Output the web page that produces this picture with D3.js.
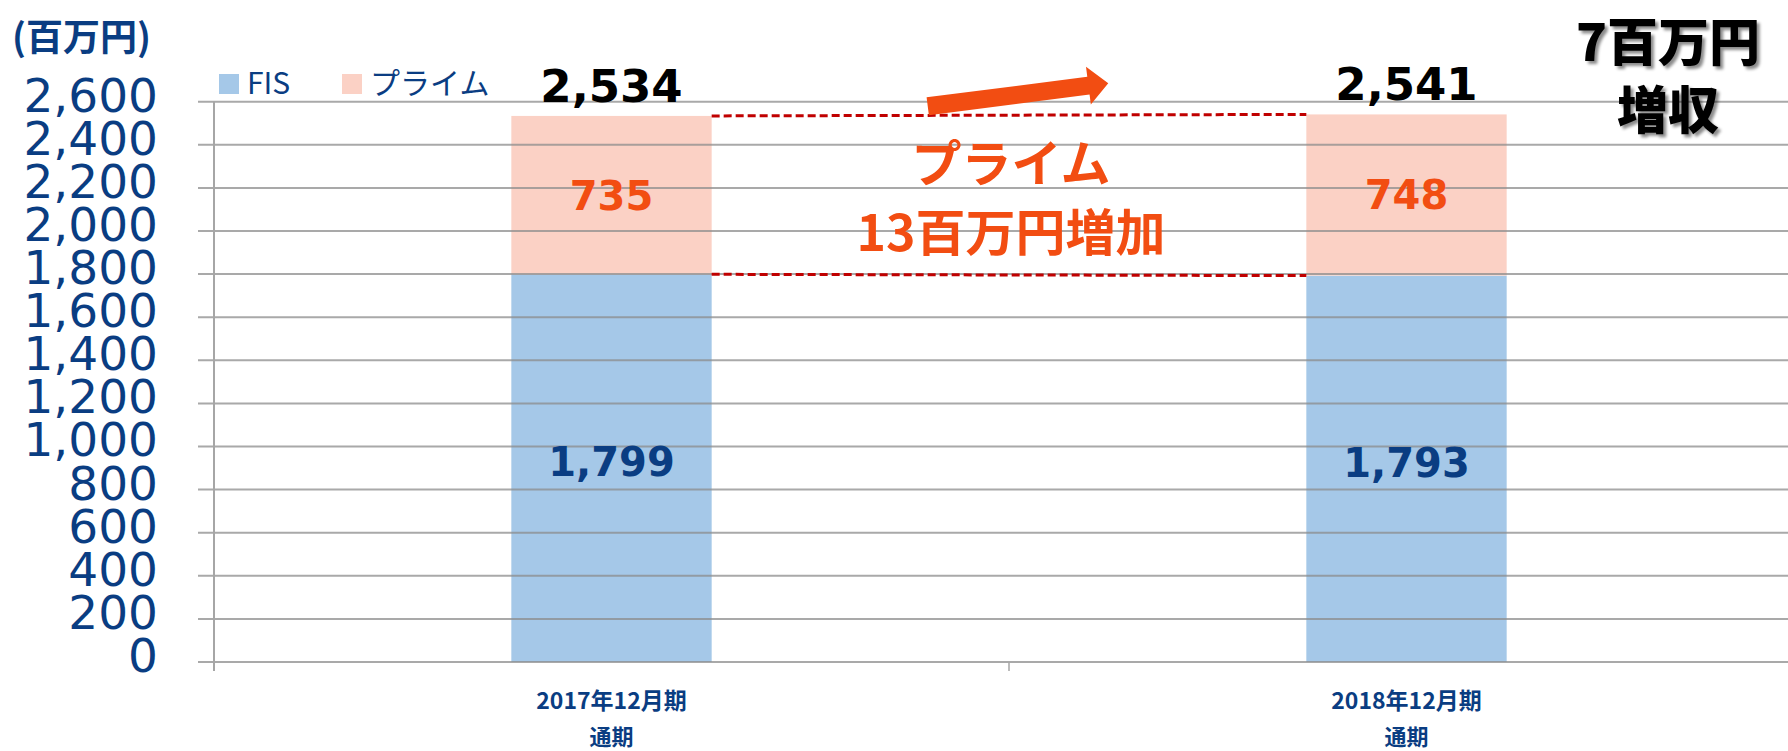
<!DOCTYPE html>
<html>
<head>
<meta charset="utf-8">
<script src="https://cdn.jsdelivr.net/npm/d3@7"></script>
<style>
  body { margin: 0; background: #fff; }
  svg { display: block; }
</style>
</head>
<body>
<div id="chart"></div>
<script>
/* FIS / プライム stacked bars */

const categories = ["2017年12月期", "2018年12月期"];
const subLabels = ["通期", "通期"];
const seriesNames = ["FIS", "プライム"];
const fisValues = [1799, 1793];
const primeValues = [735, 748];
const totals = [2534, 2541];
const yTicks = [0, 200, 400, 600, 800, 1000, 1200, 1400, 1600, 1800, 2000, 2200, 2400, 2600];
const unitLabel = "(百万円)";
const noteLines = ["プライム", "13百万円増加"];
const resultLines = ["7百万円", "増収"];

const width = 1788,
    height = 751,
    margin = ({ top: 101.7, right: -16, bottom: 89, left: 214 });

const blue = "#0a3d82", orange = "#f24d12";
const colors = ["#a5c8e8", "#fbd1c5"];

const svg = d3.select("#chart")
    .append("svg")
    .attr("width", width)
    .attr("height", height)
    .attr("viewBox", [0, 0, width, height]);

const defs = svg.append("defs");
defs.append("filter").attr("id", "shadow")
    .attr("x", "-10%").attr("y", "-10%").attr("width", "130%").attr("height", "140%")
  .append("feDropShadow")
    .attr("dx", 3).attr("dy", 3).attr("stdDeviation", 1.5)
    .attr("flood-color", "#000").attr("flood-opacity", 0.45);

const data = categories.map((c, i) => ({ cat: c, FIS: fisValues[i], "プライム": primeValues[i] }));
const stacked = d3.stack().keys(seriesNames)(data);

const x = d3.scaleBand()
    .domain(categories)
    .range([margin.left, width - margin.right])
    .padding(0);

const y = d3.scaleLinear()
    .domain([0, 2600])
    .range([height - margin.bottom, margin.top]);

const barW = x.bandwidth() * 0.252;
const cx = c => x(c) + x.bandwidth() / 2;

// bars
svg.append("g")
  .selectAll("g")
  .data(stacked)
  .join("g")
    .attr("fill", (d, i) => colors[i])
  .selectAll("rect")
  .data(d => d)
  .join("rect")
    .attr("x", d => cx(d.data.cat) - barW / 2)
    .attr("y", d => y(d[1]))
    .attr("width", barW)
    .attr("height", d => y(d[0]) - y(d[1]));

// gridlines drawn over the bars
svg.append("g")
  .selectAll("line")
  .data(yTicks)
  .join("line")
    .attr("x1", margin.left - 16)
    .attr("x2", width)
    .attr("y1", d => y(d))
    .attr("y2", d => y(d))
    .attr("stroke", "#8c8c8c")
    .attr("stroke-opacity", 0.75)
    .attr("stroke-width", 2);

// y axis line and x ticks
svg.append("line")
    .attr("x1", margin.left).attr("x2", margin.left)
    .attr("y1", y(2600)).attr("y2", y(0) + 9)
    .attr("stroke", "#a6a6a6").attr("stroke-width", 2);

svg.append("line")
    .attr("x1", x(categories[1])).attr("x2", x(categories[1]))
    .attr("y1", y(0)).attr("y2", y(0) + 9)
    .attr("stroke", "#a6a6a6").attr("stroke-width", 1.5);

// y tick labels
svg.append("g")
    .attr("transform", `translate(${margin.left},0)`)
    .call(d3.axisLeft(y).tickValues(yTicks).tickSize(0).tickPadding(56).tickFormat(d3.format(",")))
    .call(g => g.select(".domain").remove())
    .call(g => g.selectAll("text")
        .attr("dy", "0.2em")
        .attr("fill", blue)
        .style("font-family", "'DejaVu Sans', sans-serif")
        .style("font-size", "47px"));

// unit label
svg.append("text")
    .attr("x", 12)
    .attr("y", 51)
    .attr("fill", blue)
    .style("font-family", "'Noto Sans CJK JP', sans-serif")
    .style("font-weight", 700)
    .style("font-size", "37px")
    .text(unitLabel);

// category labels
const catG = svg.append("g")
    .style("font-family", "'Noto Sans CJK JP', sans-serif")
    .style("font-weight", 700)
    .style("font-size", "23px")
    .attr("fill", blue)
    .attr("text-anchor", "middle");

catG.selectAll("text.cat")
  .data(categories)
  .join("text")
    .attr("class", "cat")
    .attr("x", d => cx(d))
    .attr("y", 709)
    .text(d => d);

catG.selectAll("text.sub")
  .data(subLabels)
  .join("text")
    .attr("class", "sub")
    .attr("x", (d, i) => cx(categories[i]))
    .attr("y", 745)
    .style("font-size", "22px")
    .text(d => d);

// dashed connectors between segment edges
const linkG = svg.append("g")
    .attr("stroke", "#c00000")
    .attr("stroke-width", 3)
    .attr("stroke-dasharray", "8,4")
    .attr("fill", "none");

[totals, fisValues].forEach(vals => {
  linkG.append("line")
    .attr("x1", cx(categories[0]) + barW / 2)
    .attr("y1", y(vals[0]))
    .attr("x2", cx(categories[1]) - barW / 2)
    .attr("y2", y(vals[1]));
});

// segment value labels
const segFmt = d3.format(",");
svg.append("g")
    .attr("text-anchor", "middle")
    .style("font-family", "'DejaVu Sans', sans-serif")
    .style("font-weight", 700)
    .style("font-size", "40px")
  .selectAll("g")
  .data(stacked)
  .join("g")
    .attr("fill", (d, i) => i === 0 ? blue : orange)
    .attr("class", (d, i) => i === 0 ? "low" : "high")
  .selectAll("text")
  .data(d => d)
  .join("text")
    .attr("x", d => cx(d.data.cat))
    .attr("y", d => (y(d[0]) + y(d[1])) / 2)
    .attr("dy", function() { return this.parentNode.getAttribute("class") === "low" ? "0.2em" : "0.36em"; })
    .text(d => segFmt(d[1] - d[0]));

// totals
svg.append("g")
    .attr("text-anchor", "middle")
    .style("font-family", "'DejaVu Sans', sans-serif")
    .style("font-weight", 700)
    .style("font-size", "45px")
  .selectAll("text")
  .data(totals)
  .join("text")
    .attr("x", (d, i) => cx(categories[i]))
    .attr("y", d => y(d) - 14)
    .attr("fill", "#000")
    .text(d => segFmt(d));

// legend
const legend = svg.append("g")
    .style("font-family", "'Noto Sans CJK JP', sans-serif")
    .style("font-size", "30px");

const legendX = [219, 342];
seriesNames.forEach((name, i) => {
  legend.append("rect")
    .attr("x", legendX[i]).attr("y", 74)
    .attr("width", 20).attr("height", 20)
    .attr("fill", colors[i]);
  legend.append("text")
    .attr("x", legendX[i] + 28).attr("y", 94)
    .attr("fill", blue)
    .text(name);
});

// arrow between the two totals
const midX = x(categories[1]) + 9;
const arrowY = y(2600) - 7;
const arrowLen = 182, shaftH = 9, headL = 20, headH = 19;
svg.append("path")
    .attr("transform", `translate(${midX},${arrowY}) rotate(-7.3)`)
    .attr("d", `M${-arrowLen / 2},${-shaftH} L${arrowLen / 2 - headL},${-shaftH} L${arrowLen / 2 - headL},${-headH}
                L${arrowLen / 2},0 L${arrowLen / 2 - headL},${headH} L${arrowLen / 2 - headL},${shaftH}
                L${-arrowLen / 2},${shaftH} Z`)
    .attr("fill", orange);

// annotation text
svg.append("g")
    .attr("text-anchor", "middle")
    .attr("fill", orange)
    .style("font-family", "'Noto Sans CJK JP', sans-serif")
    .style("font-weight", 700)
    .style("font-size", "50px")
  .selectAll("text")
  .data(noteLines)
  .join("text")
    .attr("x", x(categories[1]) + 2)
    .attr("y", (d, i) => 182 + i * 69)
    .text(d => d);

// result callout, top right
svg.append("g")
    .attr("text-anchor", "middle")
    .attr("fill", "#000")
    .attr("filter", "url(#shadow)")
    .style("font-family", "'Noto Sans CJK JP', sans-serif")
    .style("font-weight", 900)
    .style("font-size", "51px")
  .selectAll("text")
  .data(resultLines)
  .join("text")
    .attr("x", 1668)
    .attr("y", (d, i) => 61 + i * 68)
    .text(d => d);
</script>
</body>
</html>
